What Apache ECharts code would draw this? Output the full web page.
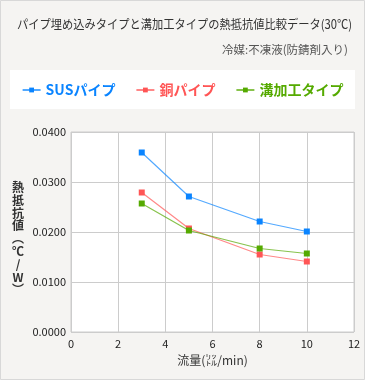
<!DOCTYPE html>
<html><head><meta charset="utf-8">
<script src="https://cdn.jsdelivr.net/npm/echarts@6/dist/echarts.min.js"></script>
<style>html,body{margin:0;padding:0;background:#f5f4f2}#c{width:365px;height:380px}</style>
</head><body><div id="c"></div>
<script>
const flow = [3, 5, 8, 10];
const seriesNames = ['SUSパイプ', '銅パイプ', '溝加工タイプ'];
const susValues = [0.0359, 0.0271, 0.0221, 0.0201];
const copperValues = [0.0279, 0.0207, 0.0155, 0.0141];
const grooveValues = [0.0257, 0.0203, 0.0167, 0.0157];
const yTicks = [0, 0.01, 0.02, 0.03, 0.04];
const xTicks = [0, 2, 4, 6, 8, 10, 12];
const colors = ['#0a84ff', '#ff5555', '#55aa00'];
const lineColors = ['rgba(10,132,255,0.7)', 'rgba(255,85,85,0.7)', 'rgba(85,170,0,0.7)'];

const font = '"Noto Sans CJK JP", "Noto Sans", sans-serif';
const chart = echarts.init(document.getElementById('c'), null, {renderer: 'canvas'});
const allValues = [susValues, copperValues, grooveValues];
chart.setOption({
  backgroundColor: '#f5f4f2',
  animation: false,
  graphic: [
    {type: 'rect', shape: {x: 0.5, y: 0.5, width: 364, height: 379}, style: {fill: 'none', stroke: '#d8d8d8', lineWidth: 1}, silent: true, z: -10},
    {type: 'rect', shape: {x: 10, y: 70, width: 345, height: 39}, style: {fill: '#ffffff'}, silent: true, z: -5},
    {type: 'text', x: 17, y: 18, scaleX: 0.9, style: {text: 'パイプ埋め込みタイプと溝加工タイプの熱抵抗値比較データ(30℃)', font: '12.5px ' + font, fill: '#333'}},
    {type: 'text', right: 17, top: 44, style: {text: '冷媒:不凍液(防錆剤入り)', font: '11.5px ' + font, fill: '#555'}},
    {type: 'text', x: 18, y: 181, style: {text: '熱\n抵\n抗\n値\n︵\n℃\n/\nW\n︶', font: '600 12px ' + font, fill: '#333', lineHeight: 12.8, align: 'center'}}
  ],
  legend: {
    top: 78,
    left: 'center',
    itemGap: 20,
    itemWidth: 18,
    itemHeight: 6,
    textStyle: {fontFamily: font, fontSize: 14, fontWeight: 'bold'},
    data: seriesNames.map((n, i) => ({name: n, textStyle: {color: colors[i]}}))
  },
  grid: {left: 71, right: 11, top: 132, bottom: 48, containLabel: false, show: true, backgroundColor: '#fff', borderColor: '#ccc', borderWidth: 1},
  xAxis: {
    type: 'value', min: xTicks[0], max: xTicks[xTicks.length - 1], interval: 2,
    name: '流量(㍑/min)', nameLocation: 'middle', nameGap: 22,
    nameTextStyle: {fontFamily: font, fontSize: 12, color: '#333'},
    axisLine: {show: false}, axisTick: {show: false},
    axisLabel: {fontFamily: font, fontSize: 11, color: '#222', margin: 6},
    splitLine: {lineStyle: {color: '#ccc'}}
  },
  yAxis: {
    type: 'value', min: yTicks[0], max: yTicks[yTicks.length - 1], interval: 0.01,
    axisLine: {show: false}, axisTick: {show: false},
    axisLabel: {fontFamily: font, fontSize: 11, color: '#222', margin: 5, formatter: v => v.toFixed(4)},
    splitLine: {lineStyle: {color: '#ccc'}}
  },
  series: seriesNames.map((n, i) => ({
    name: n, type: 'line',
    data: flow.map((x, j) => [x, allValues[i][j]]),
    symbol: 'rect', symbolSize: 6,
    itemStyle: {color: colors[i]},
    lineStyle: {color: lineColors[i], width: 1.2}
  }))
});
</script></body></html>
